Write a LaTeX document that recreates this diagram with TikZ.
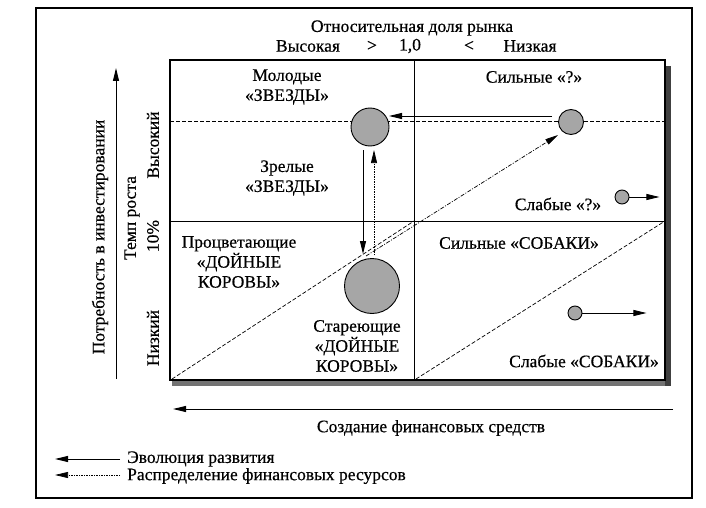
\documentclass[tikz,border=0pt]{standalone}
\usepackage{fontspec}
\setmainfont{Liberation Serif}[FakeBold=0.5]
\usetikzlibrary{arrows.meta}
\begin{document}
\begin{tikzpicture}[x=1pt,y=-1pt,
  lbl/.style={font=\fontsize{17.5}{20}\selectfont, inner sep=0pt, align=center},
  tip/.style={-{Triangle[length=13pt,width=6pt]}},
  evo/.style={tip, line width=0.9pt},
  fin/.style={tip, line width=0.7pt, dash pattern=on 1.5pt off 1pt},
  findd/.style={tip, line width=0.7pt, dash pattern=on 4pt off 1.5pt on 1pt off 1.5pt},
  sep/.style={line width=0.7pt, dash pattern=on 4pt off 2pt},
  ball/.style={circle, draw, line width=0.9pt, fill=black!35, inner sep=0pt},
]
\useasboundingbox (0,0) rectangle (706,508);
% outer frame
\draw[line width=1.3pt] (36,8) rectangle (692,498);
% top labels
\node[lbl] (title) at (412,28) {Относительная доля рынка};
\node[lbl] (hi) at (308,46) {Высокая};
\node[lbl] (gt) at (372,46) {>};
\node[lbl] (one) at (410,46) {1,0};
\node[lbl] (lt) at (469,46) {<};
\node[lbl] (lo) at (530,46) {Низкая};
% matrix with shadow
\fill[black!55] (172,66) rectangle (671,386);
\fill[black!75] (665,66) rectangle (671,386);
\draw[line width=1.3pt, fill=white] (170,60) rectangle (665,380);
\draw[line width=1pt] (414,60) -- (414,380);
\draw[line width=1pt] (170,221) -- (665,221);
% separating dashed lines
\draw[sep] (170,121) -- (665,121);
\draw[sep] (172,379) -- (414,221);
\draw[sep] (416,379) -- (665,221);
% vertical axis
\coordinate (yb) at (116,379);
\coordinate (yt) at (116,68);
\draw[evo] (yb) -- (yt);
\node[lbl, rotate=90] (need) at (100,237) {Потребность в инвестировании};
\node[lbl, rotate=90] (temp) at (132,218) {Темп роста};
\node[lbl, rotate=90] (vys) at (153,145) {Высокий};
\node[lbl, rotate=90] (ten) at (153,236) {10\%};
\node[lbl, rotate=90] (niz) at (153,338) {Низкий};
% horizontal axis
\coordinate (xb) at (673,409);
\coordinate (xe) at (173,409);
\draw[evo] (xb) -- (xe);
\node[lbl] (cash) at (431,428) {Создание финансовых средств};
% quadrant labels
\node[lbl] (young) at (287,87) {Молодые\\«ЗВЕЗДЫ»};
\node[lbl] (mature) at (287,178) {Зрелые\\«ЗВЕЗДЫ»};
\node[lbl] (strongq) at (534,77) {Сильные «?»};
\node[lbl] (weakq) at (558,204) {Слабые «?»};
\node[lbl] (flour) at (239,262) {Процветающие\\«ДОЙНЫЕ\\КОРОВЫ»};
\node[lbl] (aging) at (357,346) {Стареющие\\«ДОЙНЫЕ\\КОРОВЫ»};
\node[lbl] (strongd) at (519,243) {Сильные «СОБАКИ»};
\node[lbl] (weakd) at (584,361) {Слабые «СОБАКИ»};
% circles
\node[ball, minimum size=38pt] (star) at (370,127) {};
\node[ball, minimum size=25pt] (sq) at (571,122) {};
\node[ball, minimum size=55pt] (cow) at (372,286) {};
\node[ball, minimum size=14pt] (wq) at (622,197) {};
\node[ball, minimum size=14pt] (dog) at (575,313) {};
% evolution arrows
\coordinate (a1s) at (552,116);
\coordinate (a1e) at (389,116);
\draw[evo] (a1s) -- (a1e);
\coordinate (a2s) at (363,150);
\coordinate (a2e) at (363,254);
\draw[evo] (a2s) -- (a2e);
\draw[evo] (wq.east) -- ++(30,0) coordinate (wqe);
\draw[evo] (dog.east) -- ++(64,0) coordinate (doge);
% finance arrows
\coordinate (f1s) at (374,255);
\coordinate (f1e) at (374,150);
\draw[fin] (f1s) -- (f1e);
\coordinate (f2s) at (366,256);
\coordinate (f2e) at (558,135);
\draw[findd] (f2s) -- (f2e);
% legend
\coordinate (l1s) at (120,459);
\coordinate (l1e) at (55,459);
\draw[evo] (l1s) -- (l1e);
\node[lbl, anchor=west] (l1t) at (127,459) {Эволюция развития};
\coordinate (l2s) at (120,475);
\coordinate (l2e) at (55,475);
\draw[fin] (l2s) -- (l2e);
\node[lbl, anchor=west] (l2t) at (127,476) {Распределение финансовых ресурсов};
\end{tikzpicture}
\end{document}
